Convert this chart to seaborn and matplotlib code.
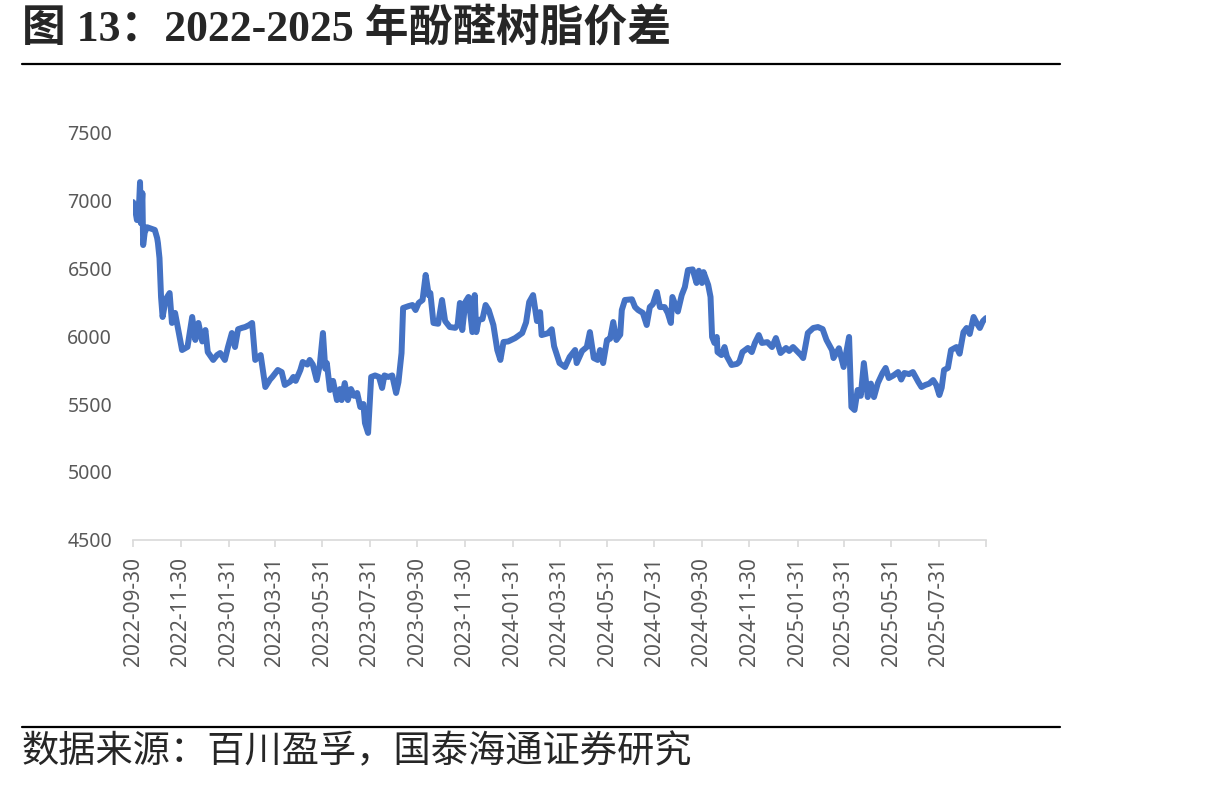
import pandas as pd
import matplotlib.pyplot as plt
import seaborn as sns
from matplotlib.lines import Line2D

# data -------------------------------------------------------------
dates = [
    "2022-09-30", "2022-10-03", "2022-10-05", "2022-10-08", "2022-10-09", "2022-10-10", "2022-10-12", "2022-10-13",
    "2022-10-15", "2022-10-18", "2022-10-23", "2022-10-28", "2022-10-31", "2022-11-01", "2022-11-03", "2022-11-05",
    "2022-11-07", "2022-11-11", "2022-11-16", "2022-11-19", "2022-11-23", "2022-11-27", "2022-12-02", "2022-12-09",
    "2022-12-15", "2022-12-19", "2022-12-23", "2022-12-28", "2023-01-01", "2023-01-04", "2023-01-11", "2023-01-16",
    "2023-01-20", "2023-01-26", "2023-01-30", "2023-02-04", "2023-02-08", "2023-02-12", "2023-02-17", "2023-02-21",
    "2023-02-26", "2023-03-02", "2023-03-06", "2023-03-13", "2023-03-19", "2023-03-25", "2023-03-28", "2023-04-04",
    "2023-04-09", "2023-04-13", "2023-04-20", "2023-04-24", "2023-04-27", "2023-05-03", "2023-05-06", "2023-05-12",
    "2023-05-15", "2023-05-19", "2023-05-24", "2023-05-28", "2023-06-01", "2023-06-04", "2023-06-06", "2023-06-10",
    "2023-06-14", "2023-06-19", "2023-06-23", "2023-06-25", "2023-06-29", "2023-07-03", "2023-07-07", "2023-07-11",
    "2023-07-15", "2023-07-19", "2023-07-23", "2023-07-25", "2023-07-29", "2023-08-02", "2023-08-07", "2023-08-12",
    "2023-08-16", "2023-08-19", "2023-08-24", "2023-08-29", "2023-09-03", "2023-09-06", "2023-09-10", "2023-09-12",
    "2023-09-19", "2023-09-24", "2023-09-28", "2023-10-02", "2023-10-07", "2023-10-11", "2023-10-15", "2023-10-17",
    "2023-10-21", "2023-10-27", "2023-11-01", "2023-11-05", "2023-11-11", "2023-11-18", "2023-11-21", "2023-11-24",
    "2023-11-27", "2023-12-01", "2023-12-05", "2023-12-10", "2023-12-13", "2023-12-15", "2023-12-18", "2023-12-23",
    "2023-12-27", "2023-12-31", "2024-01-06", "2024-01-11", "2024-01-15", "2024-01-19", "2024-01-25", "2024-02-03",
    "2024-02-12", "2024-02-17", "2024-02-21", "2024-02-26", "2024-03-02", "2024-03-06", "2024-03-08", "2024-03-16",
    "2024-03-21", "2024-03-24", "2024-03-31", "2024-04-07", "2024-04-13", "2024-04-20", "2024-04-22", "2024-04-29",
    "2024-05-05", "2024-05-09", "2024-05-14", "2024-05-19", "2024-05-22", "2024-05-26", "2024-05-31", "2024-06-04",
    "2024-06-08", "2024-06-12", "2024-06-17", "2024-06-19", "2024-06-23", "2024-07-02", "2024-07-06", "2024-07-10",
    "2024-07-16", "2024-07-21", "2024-07-25", "2024-07-29", "2024-08-03", "2024-08-07", "2024-08-13", "2024-08-17",
    "2024-08-21", "2024-08-23", "2024-08-30", "2024-09-04", "2024-09-08", "2024-09-12", "2024-09-18", "2024-09-23",
    "2024-09-26", "2024-09-30", "2024-10-02", "2024-10-08", "2024-10-11", "2024-10-13", "2024-10-16", "2024-10-19",
    "2024-10-20", "2024-10-25", "2024-10-29", "2024-11-01", "2024-11-07", "2024-11-14", "2024-11-17", "2024-11-21",
    "2024-11-28", "2024-12-03", "2024-12-07", "2024-12-12", "2024-12-16", "2024-12-23", "2024-12-29", "2025-01-03",
    "2025-01-09", "2025-01-16", "2025-01-20", "2025-01-25", "2025-02-04", "2025-02-07", "2025-02-09", "2025-02-13",
    "2025-02-20", "2025-02-26", "2025-03-04", "2025-03-09", "2025-03-16", "2025-03-18", "2025-03-25", "2025-03-31",
    "2025-04-07", "2025-04-10", "2025-04-14", "2025-04-18", "2025-04-22", "2025-04-26", "2025-05-01", "2025-05-05",
    "2025-05-09", "2025-05-14", "2025-05-20", "2025-05-24", "2025-05-28", "2025-06-03", "2025-06-09", "2025-06-13",
    "2025-06-17", "2025-06-23", "2025-06-28", "2025-07-05", "2025-07-09", "2025-07-14", "2025-07-19", "2025-07-24",
    "2025-07-28", "2025-08-01", "2025-08-04", "2025-08-07", "2025-08-12", "2025-08-16", "2025-08-23", "2025-08-27",
    "2025-09-01", "2025-09-05", "2025-09-09", "2025-09-14", "2025-09-18", "2025-09-22", "2025-09-26", "2025-09-30",
]
spread = [
    6985, 6920, 6853, 7000, 7132, 6830, 7051, 6669,
    6760, 6800, 6790, 6780, 6720, 6684, 6573, 6287,
    6140, 6270, 6316, 6096, 6170, 6050, 5897, 5920,
    6140, 5971, 6096, 5960, 6044, 5882, 5824, 5860,
    5875, 5824, 5919, 6022, 5919, 6050, 6060, 6066,
    6080, 6096, 5824, 5860, 5625, 5680, 5699, 5750,
    5735, 5640, 5665, 5699, 5670, 5750, 5809, 5790,
    5824, 5790, 5676, 5790, 6022, 5760, 5801, 5603,
    5670, 5529, 5610, 5529, 5654, 5529, 5610, 5560,
    5581, 5478, 5500, 5360, 5287, 5699, 5710, 5699,
    5618, 5710, 5699, 5710, 5581, 5660, 5875, 6206,
    6220, 6228, 6191, 6243, 6265, 6449, 6300, 6316,
    6096, 6090, 6265, 6110, 6066, 6060, 6080, 6243,
    6044, 6250, 6287, 6029, 6301, 6029, 6118, 6125,
    6228, 6191, 6081, 5897, 5824, 5956, 5960, 5985,
    6022, 6100, 6250, 6301, 6110, 6176, 6007, 6020,
    6050, 5925, 5801, 5772, 5846, 5897, 5801, 5890,
    5919, 6029, 5838, 5824, 5897, 5801, 5971, 5980,
    6103, 5971, 6010, 6191, 6265, 6270, 6213, 6191,
    6170, 6081, 6213, 6235, 6324, 6213, 6213, 6170,
    6096, 6287, 6180, 6301, 6360, 6485, 6490, 6390,
    6480, 6390, 6470, 6375, 6287, 5993, 5949, 5993,
    5882, 5860, 5919, 5850, 5787, 5795, 5810, 5882,
    5912, 5882, 5949, 6007, 5949, 5955, 5919, 5985,
    5875, 5912, 5890, 5919, 5860, 5838, 5897, 6022,
    6059, 6066, 6051, 5971, 5897, 5838, 5910, 5772,
    5993, 5478, 5456, 5603, 5560, 5801, 5551, 5650,
    5551, 5654, 5728, 5765, 5691, 5710, 5735, 5680,
    5728, 5720, 5735, 5662, 5625, 5640, 5650, 5676,
    5640, 5566, 5620, 5750, 5765, 5897, 5919, 5870,
    6029, 6059, 6015, 6140, 6095, 6059, 6110, 6132,
]
tick_dates = ["2022-09-30", "2022-11-30", "2023-01-31", "2023-03-31", "2023-05-31", "2023-07-31",
              "2023-09-30", "2023-11-30", "2024-01-31", "2024-03-31", "2024-05-31", "2024-07-31",
              "2024-09-30", "2024-11-30", "2025-01-31", "2025-03-31", "2025-05-31", "2025-07-31"]
y_ticks = [4500, 5000, 5500, 6000, 6500, 7000, 7500]

title = "图 13：2022-2025 年酚醛树脂价差"
source = "数据来源：百川盈孚，国泰海通证券研究"

df = pd.DataFrame({"date": pd.to_datetime(dates), "spread": spread})

# layout -------------------------------------------------------------
sns.set_theme(style="white")
plt.rcParams["font.family"] = ["Noto Sans", "Noto Sans CJK SC", "DejaVu Sans"]

fig = plt.figure(figsize=(12.16, 7.86), dpi=100)
ax = fig.add_axes([0.1094, 0.313, 0.7015, 0.519])

sns.lineplot(data=df, x="date", y="spread", ax=ax, color="#4472C4", linewidth=4.3,
             solid_joinstyle="round", solid_capstyle="round")

ax.set_xlim(df["date"].iloc[0], df["date"].iloc[-1])
ax.set_ylim(4500, 7500)
ticks = list(pd.to_datetime(tick_dates)) + [df["date"].iloc[-1]]
ax.set_xticks(ticks)
ax.set_xticklabels(tick_dates + [""], rotation=90, va="top", ha="center")
ax.set_yticks(y_ticks)
ax.set_yticklabels([str(v) for v in y_ticks])
ax.set_xlabel("")
ax.set_ylabel("")

for s in ("top", "right", "left"):
    ax.spines[s].set_visible(False)
ax.spines["bottom"].set_color("#d9d9d9")
ax.spines["bottom"].set_linewidth(1.2)
ax.tick_params(axis="x", direction="out", length=5, width=1.2, color="#d9d9d9",
               labelcolor="#595959", labelsize=15, pad=7, bottom=True)
ax.tick_params(axis="y", length=0, labelcolor="#595959", labelsize=14, pad=15)
ax.grid(False)

# title, rules and source ---------------------------------------------
fig.text(0.018, 0.963, title, fontsize=31.5, fontweight="bold", va="center", ha="left",
         family=["Liberation Serif", "Noto Sans CJK SC"])
fig.add_artist(Line2D([0.018, 0.872], [1 - 64 / 786] * 2, color="black", linewidth=1.6))
fig.add_artist(Line2D([0.018, 0.872], [1 - 727 / 786] * 2, color="black", linewidth=1.6))
fig.text(0.018, 1 - 752 / 786, source, fontsize=26.8, va="center", ha="left",
         family=["Noto Sans CJK SC", "DejaVu Sans"])

plt.savefig("out.png", dpi=100)
